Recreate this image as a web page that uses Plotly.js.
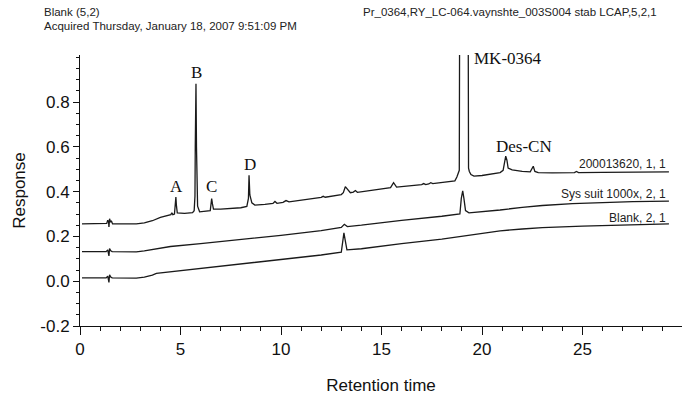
<!DOCTYPE html>
<html>
<head>
<meta charset="utf-8">
<script src="https://cdn.plot.ly/plotly-3.0.1.min.js"></script>
<style>html,body{margin:0;padding:0;background:#fff;}#chart{width:684px;height:395px;}</style>
</head>
<body>
<div id="chart"></div>
<script>
// Retention time (min) and response for each chromatogram.
// The MK-0364 main peak is off scale (1.3): its top is clipped by the axis.
var sampleTime = [0.1,1.2,1.33,1.38,1.42,1.44,1.47,1.52,1.56,1.62,2.0,2.8,3.2,3.6,4.0,4.4,4.52,4.57,4.62,4.70,4.74,4.77,4.80,4.84,5.2,5.6,5.68,5.72,5.735,5.77,5.795,5.81,5.85,5.95,6.3,6.48,6.52,6.55,6.59,6.64,7.0,7.5,7.8,8.0,8.3,8.38,8.41,8.45,8.55,8.7,9.2,9.6,9.7,9.8,10.1,10.25,10.4,11.0,12.0,12.1,12.2,13.0,13.1,13.2,13.3,13.45,13.6,13.7,13.8,14.5,15.45,15.6,15.75,16.5,17.0,17.1,17.2,17.35,17.45,17.55,18.3,18.65,18.75,18.84,18.87,18.89,19.31,19.33,19.37,19.45,19.6,20.0,20.5,20.9,21.05,21.12,21.18,21.24,21.3,21.5,22.0,22.4,22.48,22.55,22.63,22.8,23.5,24.6,24.7,24.8,26.0,27.5,29.3];
var sampleResp = [0.256,0.256,0.258,0.272,0.267,0.242,0.279,0.264,0.27,0.256,0.256,0.256,0.26,0.27,0.285,0.293,0.297,0.305,0.297,0.300,0.335,0.376,0.335,0.305,0.303,0.306,0.315,0.38,0.60,0.882,0.60,0.385,0.335,0.31,0.312,0.315,0.345,0.369,0.345,0.322,0.322,0.325,0.33,0.328,0.334,0.37,0.473,0.385,0.35,0.34,0.343,0.347,0.356,0.348,0.352,0.36,0.354,0.362,0.374,0.379,0.375,0.387,0.395,0.422,0.41,0.395,0.398,0.405,0.397,0.405,0.418,0.44,0.42,0.427,0.431,0.436,0.431,0.434,0.44,0.436,0.445,0.448,0.465,0.488,0.495,1.3,1.3,0.505,0.49,0.476,0.469,0.472,0.478,0.485,0.495,0.54,0.558,0.54,0.505,0.497,0.49,0.488,0.505,0.513,0.49,0.485,0.484,0.485,0.49,0.485,0.486,0.487,0.488];

var suitTime = [0.1,1.3,1.38,1.44,1.47,1.53,1.6,2.8,3.2,3.6,3.8,4.5,6.0,8.0,10.0,12.0,13.0,13.15,13.3,14.0,14.9,16.0,18.0,18.9,18.97,19.04,19.1,19.18,19.35,20.0,20.9,22.0,23.0,24.5,26.0,27.5,29.3];
var suitResp = [0.132,0.132,0.14,0.113,0.146,0.136,0.132,0.131,0.135,0.141,0.147,0.155,0.168,0.185,0.205,0.226,0.24,0.254,0.244,0.25,0.26,0.272,0.29,0.3,0.37,0.403,0.37,0.315,0.305,0.31,0.318,0.33,0.338,0.346,0.351,0.355,0.358];

var blankTime = [0.1,1.3,1.38,1.44,1.47,1.53,1.6,2.8,3.2,3.6,3.8,4.5,6.0,8.0,10.0,12.0,13.0,13.07,13.13,13.2,13.28,14.0,14.9,16.0,18.0,19.0,19.1,20.0,20.9,22.0,23.0,25.0,27.0,29.3];
var blankResp = [0.015,0.015,0.023,-0.005,0.029,0.019,0.015,0.014,0.018,0.027,0.035,0.042,0.057,0.076,0.096,0.117,0.13,0.18,0.216,0.18,0.14,0.145,0.156,0.168,0.188,0.2,0.203,0.212,0.225,0.233,0.239,0.246,0.251,0.256];

var traceNames = ["200013620, 1, 1", "Sys suit 1000x, 2, 1", "Blank, 2, 1"];
var peakNames = ["A", "B", "C", "D", "MK-0364", "Des-CN"];
var peakX = [4.8, 5.8, 6.55, 8.45, 19.5, 22.1];
var peakY = [0.424, 0.93, 0.424, 0.52, 0.995, 0.6];
var peakAnchor = ["center", "center", "center", "center", "left", "center"];
var traceLabelY = [0.522, 0.388, 0.281];

var xTicks = [0, 5, 10, 15, 20, 25];
var yTicks = [-0.2, 0.0, 0.2, 0.4, 0.6, 0.8];
var yTickText = ["-0.2", "0.0", "0.2", "0.4", "0.6", "0.8"];

var headerLeft1 = "Blank (5,2)";
var headerLeft2 = "Acquired Thursday, January 18, 2007 9:51:09 PM";
var headerRight = "Pr_0364,RY_LC-064.vaynshte_003S004 stab LCAP,5,2,1";

var lineStyle = {color: "#1a1a1a", width: 1.3};
var data = [
  {x: sampleTime, y: sampleResp, type: "scatter", mode: "lines", line: lineStyle, name: traceNames[0]},
  {x: suitTime, y: suitResp, type: "scatter", mode: "lines", line: lineStyle, name: traceNames[1]},
  {x: blankTime, y: blankResp, type: "scatter", mode: "lines", line: lineStyle, name: traceNames[2]}
];

var ann = [];
for (var i = 0; i < peakNames.length; i++) {
  ann.push({x: peakX[i], y: peakY[i], xref: "x", yref: "y", text: peakNames[i], showarrow: false,
    xanchor: peakAnchor[i], yanchor: "middle",
    font: {family: "Liberation Serif, Times New Roman, serif", size: 17, color: "#111"}});
}
for (var j = 0; j < traceNames.length; j++) {
  ann.push({x: 29.25, y: traceLabelY[j], xref: "x", yref: "y", text: traceNames[j], showarrow: false,
    xanchor: "right", yanchor: "middle",
    font: {family: "Liberation Sans, Arial, sans-serif", size: 12, color: "#222"}});
}
var hdrFont = {family: "Liberation Sans, Arial, sans-serif", size: 11.5, color: "#222"};
ann.push({x: -0.063, y: 1.159, xref: "paper", yref: "paper", text: headerLeft1, showarrow: false, xanchor: "left", yanchor: "middle", font: hdrFont});
ann.push({x: -0.063, y: 1.107, xref: "paper", yref: "paper", text: headerLeft2, showarrow: false, xanchor: "left", yanchor: "middle", font: hdrFont});
ann.push({x: 0.467, y: 1.159, xref: "paper", yref: "paper", text: headerRight, showarrow: false, xanchor: "left", yanchor: "middle", font: hdrFont});

var layout = {
  width: 684, height: 395,
  margin: {l: 80, r: 2, t: 55, b: 69},
  paper_bgcolor: "#fff", plot_bgcolor: "#fff",
  showlegend: false,
  font: {family: "Liberation Sans, Arial, sans-serif", color: "#111"},
  xaxis: {
    range: [0, 29.95], showgrid: false, zeroline: false,
    showline: true, linecolor: "#111", linewidth: 1,
    tickmode: "array", tickvals: xTicks, ticks: "outside", ticklen: 8, tickcolor: "#111",
    tickfont: {size: 17, color: "#111"},
    minor: {tick0: 0, dtick: 1, ticks: "outside", ticklen: 4, tickcolor: "#111", showgrid: false},
    title: {text: "Retention time", font: {size: 17, color: "#111"}, standoff: 20}
  },
  yaxis: {
    range: [-0.2, 1.01], showgrid: false, zeroline: false,
    showline: true, linecolor: "#111", linewidth: 1,
    tickmode: "array", tickvals: yTicks, ticktext: yTickText, ticks: "outside", ticklen: 6, tickcolor: "#111",
    tickfont: {size: 17, color: "#111"},
    minor: {tick0: 0, dtick: 0.05, ticks: "outside", ticklen: 3, tickcolor: "#111", showgrid: false},
    title: {text: "Response", font: {size: 17, color: "#111"}, standoff: 10}
  },
  annotations: ann
};

Plotly.newPlot("chart", data, layout, {staticPlot: true, displayModeBar: false});
</script>
</body>
</html>
